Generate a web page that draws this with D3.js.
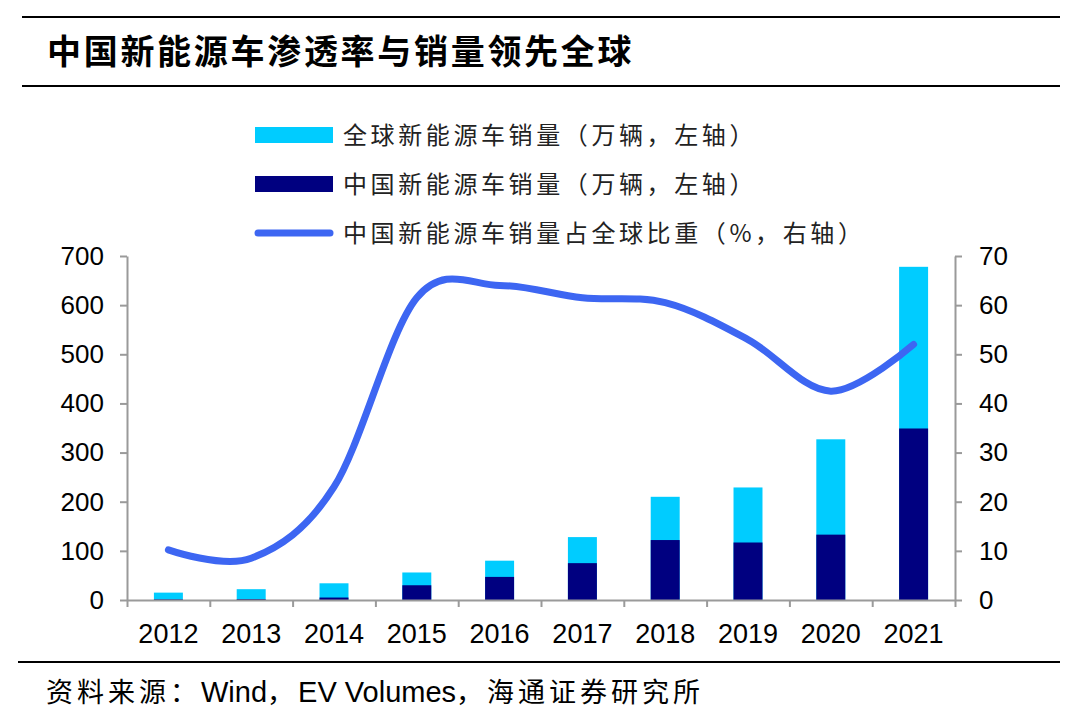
<!DOCTYPE html>
<html>
<head>
<meta charset="utf-8">
<script src="https://cdn.jsdelivr.net/npm/d3@7"></script>
<style>
  body { margin: 0; background: #fff; }
  svg { display: block; }
</style>
</head>
<body>
<svg width="1080" height="722"></svg>
<script>
// 年份
const years = ['2012', '2013', '2014', '2015', '2016', '2017', '2018', '2019', '2020', '2021'];
// 全球新能源车销量（万辆）
const globalSales = [15, 22, 34, 56, 80, 128, 210, 229, 327, 678];
// 中国新能源车销量（万辆）
const chinaSales = [1.3, 1.8, 5, 30, 47, 75, 122, 117, 133, 349];
// 中国占全球比重（%）
const chinaShare = [10.2, 8.5, 23, 61.5, 64, 61.5, 60.5, 53, 42.5, 52];

const leftTicks = [0, 100, 200, 300, 400, 500, 600, 700];
const rightTicks = [0, 10, 20, 30, 40, 50, 60, 70];

const legendItems = [
  { name: '全球新能源车销量（万辆，左轴）', type: 'bar', color: '#00ccff' },
  { name: '中国新能源车销量（万辆，左轴）', type: 'bar', color: '#000080' },
  { name: '中国新能源车销量占全球比重（%，右轴）', type: 'line', color: '#3d66f2' }
];

const svg = d3.select('svg');
const cjk = '"Noto Sans CJK SC", "Noto Sans", sans-serif';
const latin = '"Liberation Sans", Arial, sans-serif';

const plot = { left: 127, right: 955, top: 256, bottom: 600 };

// 标题和分隔线
svg.append('rect').attr('x', 22).attr('y', 16).attr('width', 1038).attr('height', 2).attr('fill', '#000');
svg.append('rect').attr('x', 22).attr('y', 85).attr('width', 1038).attr('height', 2).attr('fill', '#000');
svg.append('rect').attr('x', 18).attr('y', 661).attr('width', 1042).attr('height', 2).attr('fill', '#000');

svg.append('text')
  .attr('x', 47)
  .attr('y', 64)
  .attr('font-family', cjk)
  .attr('font-weight', 'bold')
  .attr('font-size', 34)
  .attr('letter-spacing', 2.7)
  .attr('fill', '#000')
  .text('中国新能源车渗透率与销量领先全球');

const x = d3.scaleBand()
  .domain(years)
  .range([plot.left, plot.right])
  .paddingInner(0.65)
  .paddingOuter(0.325);

const xEdge = d3.scaleLinear().domain([0, years.length]).range([plot.left, plot.right]);

const y = d3.scaleLinear().domain([0, 700]).range([plot.bottom, plot.top]);
const y2 = d3.scaleLinear().domain([0, 70]).range([plot.bottom, plot.top]);

// 柱子
const bars = svg.append('g').attr('class', 'bars');
bars.selectAll('rect.global')
  .data(years)
  .enter()
  .append('rect')
  .attr('class', 'global')
  .attr('x', d => x(d))
  .attr('width', x.bandwidth())
  .attr('y', (d, i) => y(globalSales[i]))
  .attr('height', (d, i) => y(0) - y(globalSales[i]))
  .attr('fill', legendItems[0].color);

bars.selectAll('rect.china')
  .data(years)
  .enter()
  .append('rect')
  .attr('class', 'china')
  .attr('x', d => x(d))
  .attr('width', x.bandwidth())
  .attr('y', (d, i) => y(chinaSales[i]))
  .attr('height', (d, i) => y(0) - y(chinaSales[i]))
  .attr('fill', legendItems[1].color);

// 坐标轴
const axisColor = '#9a9a9a';

const gLeft = svg.append('g')
  .attr('transform', `translate(${plot.left},0)`)
  .call(d3.axisLeft(y).tickValues(leftTicks).tickSize(7).tickSizeOuter(0).tickPadding(16));

const gRight = svg.append('g')
  .attr('transform', `translate(${plot.right},0)`)
  .call(d3.axisRight(y2).tickValues(rightTicks).tickSize(7).tickSizeOuter(0).tickPadding(17));

const gEdge = svg.append('g')
  .attr('transform', `translate(0,${plot.bottom})`)
  .call(d3.axisBottom(xEdge).ticks(years.length).tickSize(7).tickSizeOuter(0).tickFormat(''));

const gBottom = svg.append('g')
  .attr('transform', `translate(0,${plot.bottom})`)
  .call(d3.axisBottom(x).tickSize(0).tickPadding(24));
gBottom.select('.domain').remove();

[gLeft, gRight, gEdge].forEach(g => {
  g.selectAll('.domain').attr('stroke', axisColor).attr('stroke-width', 2);
  g.selectAll('.tick line').attr('stroke', axisColor).attr('stroke-width', 2);
});

[gLeft, gRight, gBottom].forEach(g => {
  g.selectAll('.tick text')
    .attr('font-family', latin)
    .attr('font-size', 26)
    .attr('fill', '#000');
});
gBottom.selectAll('.tick text').attr('font-size', 27);

// 比重曲线
const line = d3.line()
  .x((d, i) => x(years[i]) + x.bandwidth() / 2)
  .y(d => y2(d))
  .curve(d3.curveCardinal.tension(0));

svg.append('path')
  .datum(chinaShare)
  .attr('d', line)
  .attr('fill', 'none')
  .attr('stroke', legendItems[2].color)
  .attr('stroke-width', 7)
  .attr('stroke-linecap', 'round')
  .attr('stroke-linejoin', 'round');

// 图例
const legend = svg.append('g').attr('class', 'legend');
legendItems.forEach((item, i) => {
  const cy = 135 + i * 49;
  if (item.type === 'bar') {
    legend.append('rect')
      .attr('x', 255)
      .attr('y', cy - 8)
      .attr('width', 78)
      .attr('height', 16)
      .attr('fill', item.color);
  } else {
    legend.append('line')
      .attr('x1', 258)
      .attr('x2', 330)
      .attr('y1', cy)
      .attr('y2', cy)
      .attr('stroke', item.color)
      .attr('stroke-width', 7)
      .attr('stroke-linecap', 'round');
  }
  legend.append('text')
    .attr('x', 343)
    .attr('y', cy + 9)
    .attr('font-family', cjk)
    .attr('font-size', 24)
    .attr('letter-spacing', 3.6)
    .attr('fill', '#222')
    .text(item.name);
});

// 资料来源
const source = [
  { text: '资料来源：', font: cjk, size: 27, spacing: 4 },
  { text: 'Wind', font: latin, size: 29, spacing: 0 },
  { text: '，', font: cjk, size: 27, spacing: 4 },
  { text: 'EV Volumes', font: latin, size: 29, spacing: 0 },
  { text: '，海通证券研究所', font: cjk, size: 27, spacing: 4 }
];
svg.append('text')
  .attr('x', 46)
  .attr('y', 702)
  .attr('fill', '#000')
  .selectAll('tspan')
  .data(source)
  .enter()
  .append('tspan')
  .attr('font-family', d => d.font)
  .attr('font-size', d => d.size)
  .attr('letter-spacing', d => d.spacing)
  .text(d => d.text);
</script>
</body>
</html>
